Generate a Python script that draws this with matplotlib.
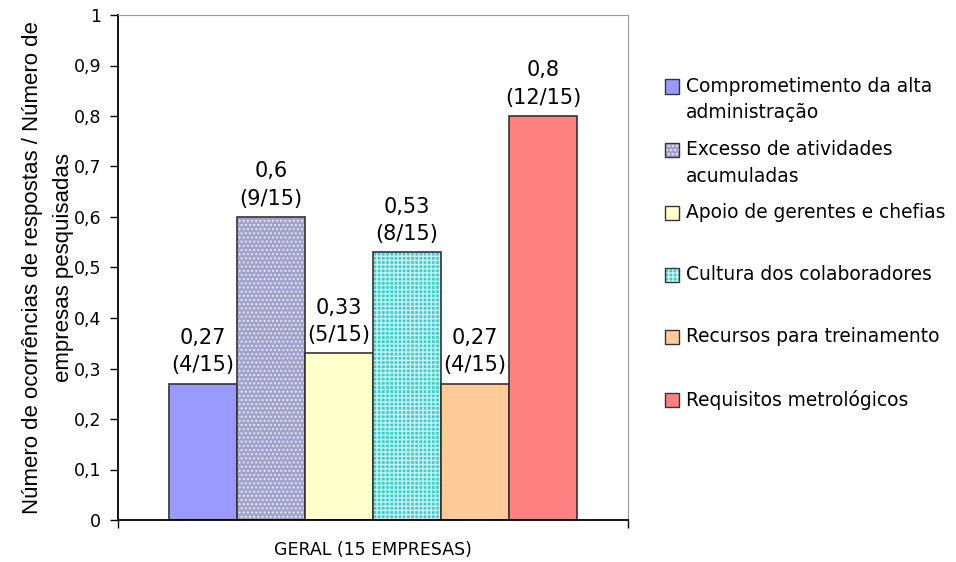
import numpy as np
import matplotlib
matplotlib.use("Agg")
import matplotlib.pyplot as plt
from matplotlib.patches import Rectangle
from matplotlib.ticker import FuncFormatter, MultipleLocator

# data
categories = ["Comprometimento da alta\nadministração",
              "Excesso de atividades\nacumuladas",
              "Apoio de gerentes e chefias",
              "Cultura dos colaboradores",
              "Recursos para treinamento",
              "Requisitos metrológicos"]
values = [0.27, 0.6, 0.33, 0.53, 0.27, 0.8]
counts = [4, 9, 5, 8, 4, 12]
total = 15
group_label = "GERAL (15 EMPRESAS)"

colors = ["#9999ff", "#a2a2cc", "#ffffcc", "#3fcccc", "#ffcc99", "#ff8080"]
hatches = [None, "....", None, "++++", None, None]
hatch_colors = [None, "#e6e6f2", None, "#c8f4f4", None, None]

W, H = 956, 562
fig = plt.figure(figsize=(W / 100, H / 100), dpi=100)
ax = fig.add_axes([118 / W, 1 - 520 / H, 510 / W, 505 / H])

plt.rcParams["hatch.linewidth"] = 1.0
w = 68 / 510
for i, (v, c) in enumerate(zip(values, colors)):
    x = (i - 2.5) * w
    if hatches[i]:
        ax.bar(x, v, width=w, color=c, edgecolor=hatch_colors[i], hatch=hatches[i], linewidth=0)
        ax.bar(x, v, width=w, fill=False, edgecolor="#333333", linewidth=1.2)
    else:
        ax.bar(x, v, width=w, color=c, edgecolor="#333333", linewidth=1.2)
    txt = f"{v:g}".replace(".", ",") + f"\n({counts[i]}/{total})"
    ax.annotate(txt, xy=(x, v), xytext=(0, 6), textcoords="offset points",
                ha="center", va="bottom", fontsize=15, family="DejaVu Sans",
                linespacing=1.45)

ax.set_xlim(-0.5, 0.5)
ax.set_ylim(0, 1)
ax.yaxis.set_major_locator(MultipleLocator(0.1))
ax.yaxis.set_major_formatter(FuncFormatter(lambda v, p: f"{int(round(v))}" if round(v, 3) in (0, 1) else f"{v:.1f}".replace(".", ",")))
ax.tick_params(axis="y", direction="out", length=6, width=1, pad=6, labelsize=12.5)
ax.set_xticks([0])
ax.set_xticklabels([group_label], fontsize=12.5)
ax.set_xticks([-0.5, 0.5], minor=True)
ax.tick_params(axis="x", which="major", length=0, pad=15)
ax.tick_params(axis="x", which="minor", direction="out", length=6, width=1)
for lab in ax.get_yticklabels() + ax.get_xticklabels():
    lab.set_family("DejaVu Sans")

ax.spines["left"].set_linewidth(1.3)
ax.spines["bottom"].set_linewidth(1.3)
ax.spines["top"].set_color("#999999")
ax.spines["right"].set_color("#999999")

ax.set_ylabel("Número de ocorrências de respostas / Número de\nempresas pesquisadas",
              fontsize=16, family="Liberation Sans", linespacing=1.6)
ax.yaxis.set_label_coords(-44 / 510, 0.5)

# legend drawn by hand to keep the Excel layout
first_lines = [86.5, 150, 213, 275, 337, 400]
for lab, c, h, hc, yc in zip(categories, colors, hatches, hatch_colors, first_lines):
    fig.add_artist(Rectangle((665 / W, 1 - (yc + 7) / H), 14 / W, 14 / H,
                             transform=fig.transFigure, facecolor=c,
                             edgecolor=hc if h else "#333333", hatch=h, linewidth=0 if h else 1))
    if h:
        fig.add_artist(Rectangle((665 / W, 1 - (yc + 7) / H), 14 / W, 14 / H,
                                 transform=fig.transFigure, fill=False,
                                 edgecolor="#333333", linewidth=1))
    for k, line in enumerate(lab.split("\n")):
        fig.text(686 / W, 1 - (yc + 26 * k) / H, line, va="center", ha="left",
                 fontsize=13.4, family="DejaVu Sans")

fig.savefig("out.png", dpi=100, facecolor="white")
